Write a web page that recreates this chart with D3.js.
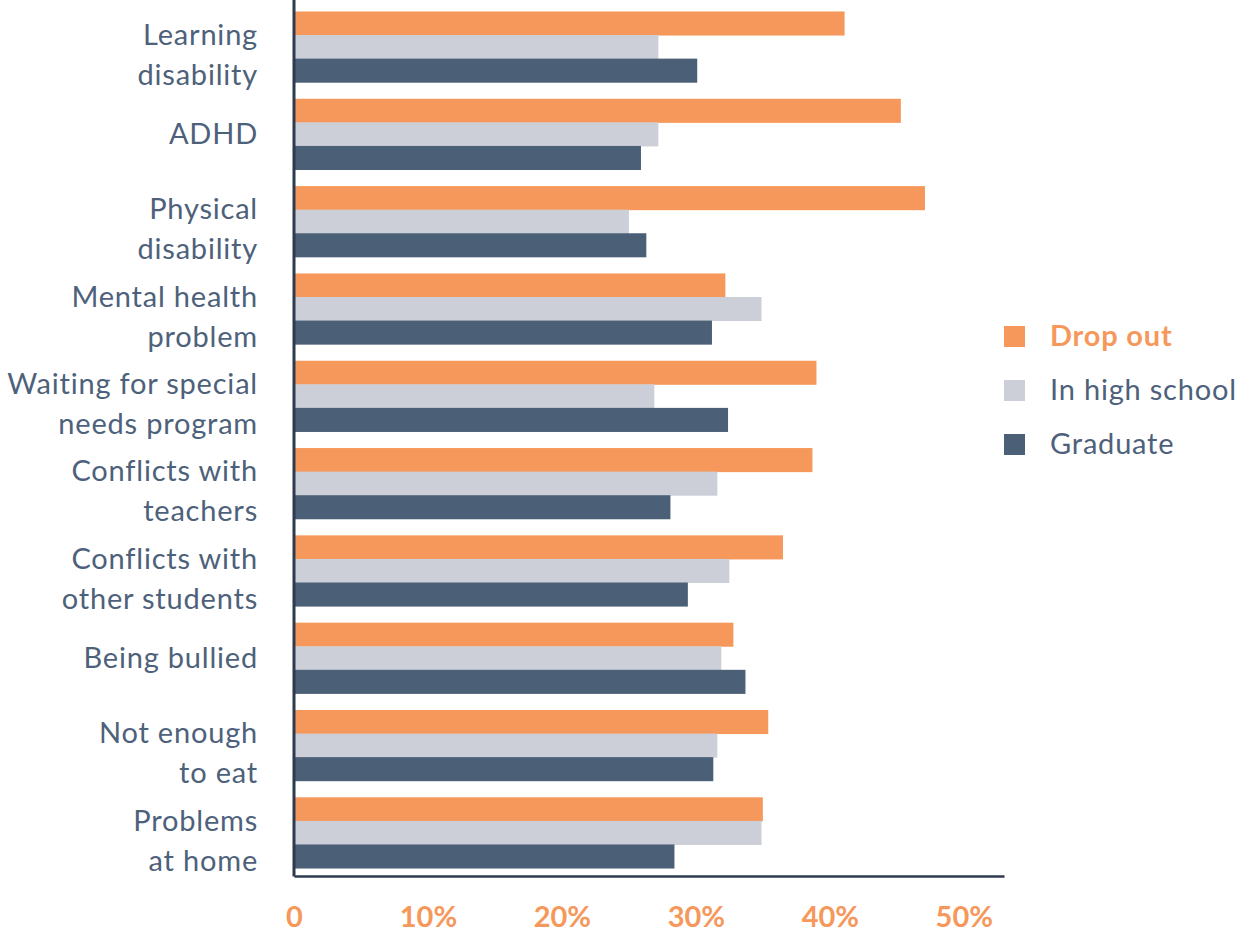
<!DOCTYPE html>
<html>
<head>
<meta charset="utf-8">
<script src="https://cdn.jsdelivr.net/npm/d3@7"></script>
<style>
  body { margin: 0; background: #fff; }
  svg { display: block; font-family: "Lato", sans-serif; }
</style>
</head>
<body>
<div id="chart"></div>
<script>
'use strict';

// categories (top to bottom), "\n" splits the label lines
const categories = [
  "Learning\ndisability",
  "ADHD",
  "Physical\ndisability",
  "Mental health\nproblem",
  "Waiting for special\nneeds program",
  "Conflicts with\nteachers",
  "Conflicts with\nother students",
  "Being bullied",
  "Not enough\nto eat",
  "Problems\nat home"
];

const seriesNames = ["Drop out", "In high school", "Graduate"];

// percent values
const dropOut      = [41.1, 45.3, 47.1, 32.2, 39.0, 38.7, 36.5, 32.8, 35.4, 35.0];
const inHighSchool = [27.2, 27.2, 25.0, 34.9, 26.9, 31.6, 32.5, 31.9, 31.6, 34.9];
const graduate     = [30.1, 25.9, 26.3, 31.2, 32.4, 28.1, 29.4, 33.7, 31.3, 28.4];

const xTicks = [0, 10, 20, 30, 40, 50];

const seriesValues = [dropOut, inHighSchool, graduate];
const colors = ["#F6985B", "#CCCFD7", "#4B5F77"];
const textColor = "#4E617A";

const width = 1241, height = 935;

let svg = d3.select("#chart").append("svg")
    .attr("width", width)
    .attr("height", height);

let x = d3.scaleLinear()
    .domain([0, 53])
    .range([294, 1004]);

let y = d3.scaleBand()
    .domain(categories)
    .range([1, 878.5])
    .paddingInner(0.19)
    .paddingOuter(0.12);

let ySub = d3.scaleBand()
    .domain(seriesNames)
    .range([0, y.bandwidth()]);

let rows = categories.map((c, i) => ({
    cat: c,
    vals: seriesNames.map((s, j) => ({ key: s, value: seriesValues[j][i], color: colors[j] }))
}));

//bars
svg.append("g")
    .selectAll("g")
    .data(rows)
    .enter()
    .append("g")
    .attr("transform", d => "translate(0," + y(d.cat) + ")")
    .selectAll("rect")
    .data(d => d.vals)
    .enter()
    .append("rect")
    .attr("x", x(0))
    .attr("y", d => ySub(d.key))
    .attr("width", d => x(d.value) - x(0))
    .attr("height", ySub.bandwidth() + 0.5)
    .attr("fill", d => d.color);

//y axis with multi-line labels
let yAxis = svg.append("g")
    .attr("transform", "translate(" + x(0) + ",0)")
    .call(d3.axisLeft(y).tickSize(0).tickSizeOuter(0).tickPadding(36));

yAxis.select(".domain")
    .attr("stroke", "#2E3B4E")
    .attr("stroke-width", 3)
    .attr("d", "M0,0V876.5");

yAxis.selectAll(".tick text")
    .attr("fill", textColor)
    .attr("font-size", 29)
    .attr("letter-spacing", "0.8px")
    .attr("font-family", "Lato, sans-serif")
    .attr("dy", null)
    .each(function(d) {
        let lines = d.split("\n");
        let t = d3.select(this).text(null);
        let start = lines.length === 1 ? 10 : -2;
        lines.forEach((ln, k) => {
            t.append("tspan")
                .attr("x", -36)
                .attr("y", start + k * 40)
                .text(ln);
        });
    });

//x axis
let xAxis = svg.append("g")
    .attr("transform", "translate(0,876)")
    .call(d3.axisBottom(x)
        .tickValues(xTicks)
        .tickSize(0)
        .tickSizeOuter(0)
        .tickPadding(30)
        .tickFormat(d => d === 0 ? "0" : d + "%"));

xAxis.select(".domain")
    .attr("stroke", "#2E3B4E")
    .attr("stroke-width", 2.5);

xAxis.selectAll(".tick text")
    .attr("fill", "#F6985B")
    .attr("font-size", 29)
    .attr("font-weight", 700)
    .attr("font-family", "Lato, sans-serif");

//legend
let legend = svg.append("g")
    .attr("transform", "translate(1004,326)")
    .selectAll("g")
    .data(seriesNames)
    .enter()
    .append("g")
    .attr("transform", (d, i) => "translate(0," + i * 54 + ")");

legend.append("rect")
    .attr("width", 21)
    .attr("height", 21)
    .attr("fill", (d, i) => colors[i]);

legend.append("text")
    .attr("x", 46)
    .attr("y", 20)
    .attr("font-size", 29)
    .attr("letter-spacing", "0.8px")
    .attr("font-weight", (d, i) => i === 0 ? 700 : 400)
    .attr("fill", (d, i) => i === 0 ? "#F6985B" : textColor)
    .text(d => d);
</script>
</body>
</html>
